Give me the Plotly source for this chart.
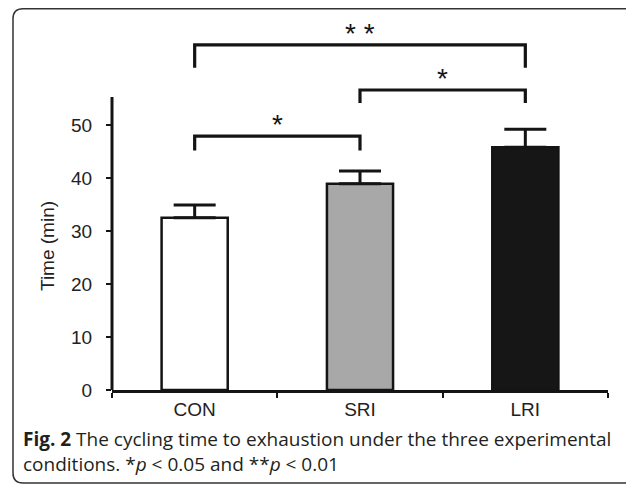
import plotly.graph_objects as go

# ---- data ----
categories = ["CON", "SRI", "LRI"]
means = [32.5, 38.9, 45.8]
sem = [2.4, 2.4, 3.4]
fill_colors = ["#ffffff", "#a8a8a8", "#161616"]

# significance comparisons: (left index, right index), label, bracket level, leg drop
comp_pairs = [(0, 2), (1, 2), (0, 1)]
comp_labels = ["* *", "*", "*"]
comp_levels = [65.1, 56.6, 47.9]
comp_drops = [4.3, 2.45, 2.7]

y_ticks = [0, 10, 20, 30, 40, 50]
y_axis_top = 55.3

OFF = 8  # page body margin
W, H = 634, 485
L, R, T, B = 112 - OFF, 634 - 608 + OFF, 19 - OFF, 485 - 390 + OFF
pw, ph = W - L - R, H - T - B


def px_x(x):
    return (x - OFF - L) / pw


def px_y(y):
    return (H - B - (y - OFF)) / ph


ink = "#141414"

fig = go.Figure()
fig.add_trace(go.Bar(
    x=categories, y=means, width=0.4,
    marker=dict(color=fill_colors, line=dict(color=ink, width=2.5)),
    error_y=dict(type="data", symmetric=False, array=sem,
                 arrayminus=[0] * len(sem), color=ink, thickness=3, width=21),
    showlegend=False,
))

shapes = []
annotations = []
shapes.append(dict(type="line", xref="paper", yref="y", x0=0, x1=0, y0=0, y1=y_axis_top,
                   line=dict(color=ink, width=3)))

for (a, b), lab, lev, drop in zip(comp_pairs, comp_labels, comp_levels, comp_drops):
    shapes.append(dict(type="path", xref="x", yref="y",
                       path=f"M {a},{lev - drop} L {a},{lev} L {b},{lev} L {b},{lev - drop}",
                       line=dict(color=ink, width=3.2)))
    annotations.append(dict(x=(a + b) / 2, y=lev, xref="x", yref="y", text=lab,
                            showarrow=False, xanchor="center", yanchor="bottom", yshift=-6,
                            font=dict(family="Liberation Sans, Arial", size=28, color=ink)))

# outer rounded frame
x0, x1, y0, y1, r = 13, 635, 8.8, 483, 10
frame = (f"M {px_x(x0 + r)},{px_y(y0)} L {px_x(x1 - r)},{px_y(y0)} "
         f"Q {px_x(x1)},{px_y(y0)} {px_x(x1)},{px_y(y0 + r)} "
         f"L {px_x(x1)},{px_y(y1 - r)} Q {px_x(x1)},{px_y(y1)} {px_x(x1 - r)},{px_y(y1)} "
         f"L {px_x(x0 + r)},{px_y(y1)} Q {px_x(x0)},{px_y(y1)} {px_x(x0)},{px_y(y1 - r)} "
         f"L {px_x(x0)},{px_y(y0 + r)} Q {px_x(x0)},{px_y(y0)} {px_x(x0 + r)},{px_y(y0)} Z")
shapes.append(dict(type="path", xref="paper", yref="paper", path=frame,
                   line=dict(color="#333333", width=1.5), layer="below"))

# y title
annotations.append(dict(x=px_x(47), y=px_y(246), xref="paper", yref="paper",
                        xanchor="center", yanchor="middle",
                        text="Time (min)", textangle=-90, showarrow=False,
                        font=dict(family="Liberation Sans, Arial", size=19, color="#222222")))

# caption
cap_font = dict(family="Open Sans, Noto Sans", size=19, color="#231f20")
annotations.append(dict(x=px_x(21), y=px_y(451), xref="paper", yref="paper", xanchor="left",
                        yanchor="middle", align="left", showarrow=False, font=cap_font,
                        text="<b>Fig. 2</b> The cycling time to exhaustion under the three experimental"
                             "<br>conditions. *<i>p</i> < 0.05 and **<i>p</i> < 0.01"))

fig.update_layout(
    width=W, height=H,
    margin=dict(l=L, r=R, t=T, b=B, pad=0),
    paper_bgcolor="white", plot_bgcolor="white",
    font=dict(family="Liberation Sans, Arial", size=19, color="#222222"),
    shapes=shapes, annotations=annotations,
    xaxis=dict(type="category", range=[-0.5, 2.5], tickson="boundaries",
               ticks="outside", ticklen=5, tickwidth=2, tickcolor=ink,
               showline=True, linecolor=ink, linewidth=3, showgrid=False,
               zeroline=False, fixedrange=True),
    yaxis=dict(range=[0, 70], tickvals=y_ticks, ticks="outside", ticklen=5,
               tickwidth=2, tickcolor=ink, showline=False, showgrid=False,
               zeroline=False, ticklabelstandoff=10),
    bargap=0.6,
)

fig.write_html("out.html")
